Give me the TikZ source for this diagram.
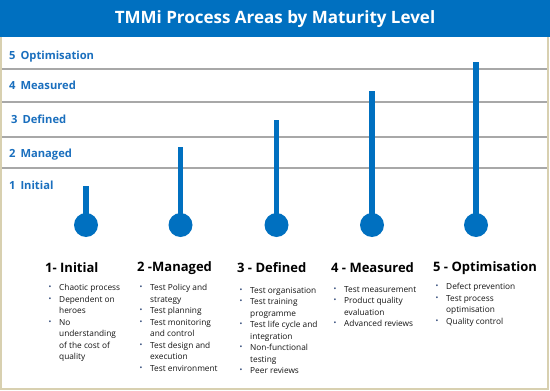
\documentclass[tikz,border=0pt]{standalone}
\usepackage{fontspec}
\setmainfont{Open Sans}
\definecolor{tblue}{HTML}{0070C0}
\definecolor{lblue}{HTML}{1A6FBE}
\definecolor{framec}{HTML}{D8D0B0}
\definecolor{gridc}{HTML}{A8A8A8}
\definecolor{bodyc}{HTML}{141414}
\definecolor{bulc}{HTML}{1F3A6E}
\newcommand{\bul}{\makebox[11pt][l]{\hspace{0.5pt}\raisebox{1pt}{\color{bulc}\fontsize{7.5}{7.5}\selectfont\textbullet}}}
\newcommand{\cont}{\hspace*{11pt}}
\tikzset{
  lvl/.style={anchor=west, text=lblue, font=\fontsize{11.2}{13}\selectfont\bfseries, inner sep=0},
  head/.style={anchor=west, text=black, font=\fontsize{13}{15}\selectfont\bfseries, inner sep=0},
  body/.style={anchor=north west, text=bodyc, font=\fontsize{8.3}{11.5}\selectfont, inner sep=0, align=left},
  gline/.style={draw=gridc, line width=1.3pt},
  bar/.style={fill=tblue},
  bulb/.style={circle, fill=tblue, minimum size=24pt, inner sep=0}
}
\begin{document}
\begin{tikzpicture}[x=1pt,y=-1pt]
\useasboundingbox (0,0) rectangle (550,391);
\fill[white] (0,0) rectangle (550,391);
% frame
\draw[framec, line width=2pt] (1,30) -- (1,389) -- (548,389) -- (548,30);
% header
\fill[tblue] (0,0) rectangle (550,37);
\node[text=white, font=\fontsize{17}{20}\selectfont\bfseries, inner sep=0] (title) at (275,19) {TMMi Process Areas by Maturity Level};
% grid lines
\foreach \yy in {69,102,137,168} \draw[gline] (2,\yy) -- (547,\yy);
% level labels
\node[lvl] (l5) at (9,57) {5\hspace{2pt} Optimisation};
\node[lvl] (l4) at (9,85) {4\hspace{2pt} Measured};
\node[lvl] (l3) at (11,119) {3\hspace{2pt} Defined};
\node[lvl] (l2) at (9,155) {2\hspace{2pt} Managed};
\node[lvl] (l1) at (9,185) {1\hspace{2pt} Initial};
% thermometers
\foreach \xx/\tp [count=\i] in {86/186,180.5/147,276.5/120,372/91,476/61.5} {
  \fill[bar] (\xx-2.8,\tp) rectangle (\xx+2.8,225);
  \node[bulb] (b\i) at (\xx,225) {};
}
% headings
\node[head] (h1) at (45,268) {1- Initial};
\node[head] (h2) at (137,268) {2 -Managed};
\node[head] (h3) at (237,268) {3 - Defined};
\node[head] (h4) at (331,268) {4 - Measured};
\node[head] (h5) at (433,268) {5 - Optimisation};
% bullet lists
\node[body] (t1) at (48,284) {\bul Chaotic process\\
\bul Dependent on\\
\cont heroes\\
\bul No\\
\cont understanding\\
\cont of the cost of\\
\cont quality};
\node[body] (t2) at (139,284) {\bul Test Policy and\\
\cont strategy\\
\bul Test planning\\
\bul Test monitoring\\
\cont and control\\
\bul Test design and\\
\cont execution\\
\bul Test environment};
\node[body] (t3) at (239,287) {\bul Test organisation\\
\bul Test training\\
\cont programme\\
\bul Test life cycle and\\
\cont integration\\
\bul Non-functional\\
\cont testing\\
\bul Peer reviews};
\node[body] (t4) at (333,286) {\bul Test measurement\\
\bul Product quality\\
\cont evaluation\\
\bul Advanced reviews};
\node[body] (t5) at (435,283) {\bul Defect prevention\\
\bul Test process\\
\cont optimisation\\
\bul Quality control};
\end{tikzpicture}
\end{document}
